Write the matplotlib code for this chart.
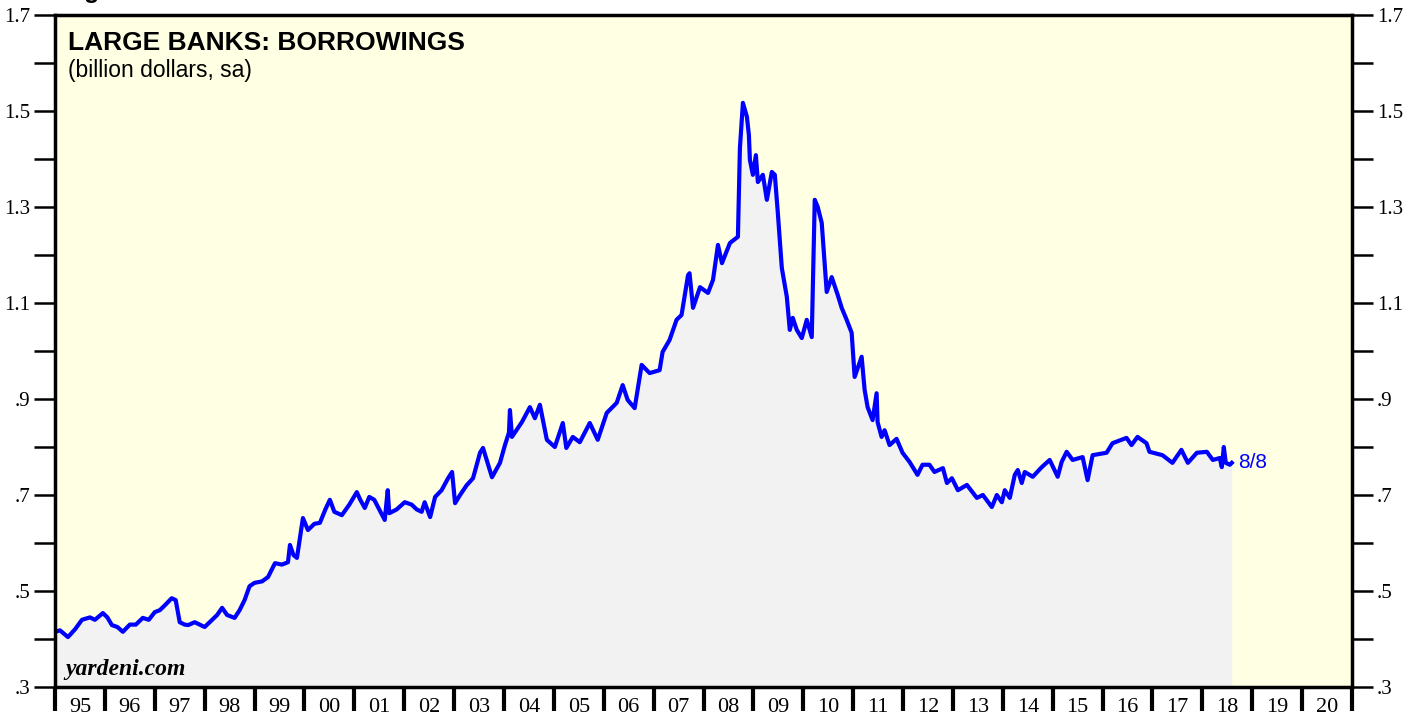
import matplotlib
matplotlib.use("Agg")
import matplotlib.pyplot as plt
from matplotlib import ticker

# weekly series (decimal year, trillion $ on the axis)
dates = [
    1995.00, 1995.10, 1995.26, 1995.40, 1995.54, 1995.70, 1995.80, 1995.96,
    1996.05, 1996.14, 1996.25, 1996.36, 1996.50, 1996.62, 1996.76, 1996.88,
    1997.00, 1997.10, 1997.20, 1997.34, 1997.42, 1997.50, 1997.60, 1997.67,
    1997.80, 1997.90, 1998.00, 1998.10, 1998.25, 1998.35, 1998.45, 1998.60,
    1998.70, 1998.80, 1998.90, 1999.00, 1999.15, 1999.27, 1999.41, 1999.55,
    1999.67, 1999.71, 1999.78, 1999.85, 1999.97, 2000.07, 2000.20, 2000.31,
    2000.42, 2000.51, 2000.60, 2000.75, 2000.90, 2001.05, 2001.12, 2001.21,
    2001.30, 2001.40, 2001.50, 2001.61, 2001.67, 2001.70, 2001.85, 2002.01,
    2002.15, 2002.25, 2002.35, 2002.41, 2002.52, 2002.62, 2002.75, 2002.88,
    2002.96, 2003.02, 2003.12, 2003.25, 2003.38, 2003.52, 2003.58, 2003.76,
    2003.92, 2004.02, 2004.10, 2004.12, 2004.16, 2004.36, 2004.52, 2004.62,
    2004.72, 2004.86, 2005.02, 2005.18, 2005.25, 2005.38, 2005.52, 2005.72,
    2005.88, 2006.06, 2006.26, 2006.38, 2006.48, 2006.62, 2006.76, 2006.92,
    2007.12, 2007.18, 2007.32, 2007.46, 2007.56, 2007.69, 2007.72, 2007.79,
    2007.93, 2008.09, 2008.19, 2008.29, 2008.37, 2008.53, 2008.69, 2008.73,
    2008.79, 2008.87, 2008.91, 2008.93, 2008.99, 2009.05, 2009.09, 2009.19,
    2009.27, 2009.37, 2009.43, 2009.49, 2009.57, 2009.67, 2009.73, 2009.79,
    2009.87, 2009.97, 2010.07, 2010.17, 2010.23, 2010.29, 2010.37, 2010.47,
    2010.57, 2010.69, 2010.77, 2010.87, 2010.97, 2011.03, 2011.17, 2011.23,
    2011.29, 2011.39, 2011.47, 2011.49, 2011.57, 2011.63, 2011.73, 2011.87,
    2011.99, 2012.13, 2012.29, 2012.39, 2012.53, 2012.63, 2012.80, 2012.88,
    2012.98, 2013.10, 2013.28, 2013.48, 2013.60, 2013.78, 2013.88, 2013.98,
    2014.04, 2014.14, 2014.24, 2014.30, 2014.38, 2014.44, 2014.60, 2014.78,
    2014.94, 2015.10, 2015.18, 2015.28, 2015.40, 2015.60, 2015.70, 2015.80,
    2016.08, 2016.20, 2016.48, 2016.58, 2016.70, 2016.88, 2016.94, 2017.20,
    2017.40, 2017.58, 2017.71, 2017.89, 2018.09, 2018.21, 2018.35, 2018.39,
    2018.43, 2018.47, 2018.55, 2018.59,
]
borrowings = [
    0.415, 0.418, 0.404, 0.420, 0.440, 0.445, 0.440, 0.454,
    0.445, 0.429, 0.425, 0.415, 0.430, 0.430, 0.444, 0.440,
    0.456, 0.460, 0.470, 0.485, 0.481, 0.435, 0.430, 0.429,
    0.435, 0.430, 0.425, 0.435, 0.450, 0.465, 0.450, 0.444,
    0.460, 0.481, 0.510, 0.517, 0.520, 0.529, 0.558, 0.555,
    0.560, 0.596, 0.575, 0.569, 0.652, 0.627, 0.640, 0.642,
    0.670, 0.690, 0.665, 0.658, 0.680, 0.706, 0.690, 0.673,
    0.696, 0.690, 0.670, 0.648, 0.710, 0.662, 0.670, 0.685,
    0.680, 0.670, 0.665, 0.685, 0.654, 0.696, 0.710, 0.735,
    0.748, 0.683, 0.700, 0.720, 0.735, 0.788, 0.798, 0.737,
    0.767, 0.804, 0.830, 0.877, 0.821, 0.852, 0.883, 0.860,
    0.888, 0.815, 0.800, 0.850, 0.798, 0.821, 0.810, 0.850,
    0.815, 0.871, 0.892, 0.929, 0.898, 0.881, 0.971, 0.954,
    0.960, 0.998, 1.023, 1.065, 1.075, 1.158, 1.162, 1.090,
    1.133, 1.121, 1.148, 1.221, 1.183, 1.225, 1.238, 1.423,
    1.517, 1.488, 1.450, 1.398, 1.367, 1.408, 1.352, 1.367,
    1.315, 1.373, 1.367, 1.288, 1.173, 1.113, 1.044, 1.069,
    1.044, 1.027, 1.065, 1.029, 1.315, 1.300, 1.267, 1.123,
    1.154, 1.117, 1.090, 1.065, 1.038, 0.946, 0.988, 0.919,
    0.883, 0.856, 0.912, 0.852, 0.821, 0.835, 0.804, 0.817,
    0.788, 0.769, 0.742, 0.763, 0.763, 0.748, 0.756, 0.725,
    0.735, 0.710, 0.721, 0.694, 0.700, 0.675, 0.700, 0.685,
    0.710, 0.694, 0.742, 0.752, 0.725, 0.748, 0.738, 0.758,
    0.773, 0.738, 0.769, 0.790, 0.773, 0.779, 0.731, 0.783,
    0.788, 0.808, 0.819, 0.804, 0.821, 0.808, 0.790, 0.783,
    0.767, 0.794, 0.767, 0.788, 0.790, 0.773, 0.777, 0.758,
    0.800, 0.767, 0.763, 0.767,
]
years = list(range(1995, 2021))
year_labels = ["%02d" % (y % 100) for y in years]
last_label = "8/8"

fig = plt.figure(figsize=(14.16, 7.19), dpi=100)
ax = fig.add_axes([55 / 1416, 1 - 687 / 719, 1297 / 1416, 672 / 719])
ax.set_facecolor("#ffffe3")

ax.fill_between(dates, borrowings, 0.3, color="#f2f2f2", lw=0)
ax.plot(dates, borrowings, color="#0000ff", lw=3, solid_joinstyle="round")
ax.text(dates[-1] + 0.12, borrowings[-1], last_label, color="#0000ff",
        fontsize=15, family="Liberation Sans", va="center", ha="left")

ax.set_xlim(1995, 2021)
ax.set_ylim(0.3, 1.7)

for s in ax.spines.values():
    s.set_linewidth(2.5)

# y axis: ticks every .1, labels every .2 on both sides
ax.yaxis.set_major_locator(ticker.FixedLocator([0.3 + 0.2 * i for i in range(8)]))
ax.yaxis.set_minor_locator(ticker.FixedLocator([0.4 + 0.2 * i for i in range(7)]))
ax.yaxis.set_major_formatter(ticker.FuncFormatter(
    lambda v, p: ("%.1f" % v).lstrip("0")))
ax.tick_params(axis="y", which="both", direction="out", length=15, width=1.8,
               left=True, right=True, labelleft=True, labelright=True,
               labelsize=15, pad=3)
for lab in ax.get_yticklabels():
    lab.set_family("Liberation Serif")

# x axis: ticks at year boundaries, labels in between
ax.xaxis.set_major_locator(ticker.FixedLocator(years + [2021]))
ax.xaxis.set_major_formatter(ticker.NullFormatter())
ax.xaxis.set_minor_locator(ticker.FixedLocator([y + 0.5 for y in years]))
ax.xaxis.set_minor_formatter(ticker.FixedFormatter(year_labels))
ax.tick_params(axis="x", which="major", direction="out", length=17, width=3)
ax.tick_params(axis="x", which="minor", length=0, labelsize=16, pad=8)
for lab in ax.get_xticklabels(minor=True):
    lab.set_family("Liberation Serif")

ax.text(0.010, 0.976, "LARGE BANKS: BORROWINGS", transform=ax.transAxes,
        fontsize=19, fontweight="bold", family="Liberation Sans",
        va="top", ha="left")
ax.text(0.010, 0.935, "(billion dollars, sa)", transform=ax.transAxes,
        fontsize=16.5, family="Liberation Sans", va="top", ha="left")
ax.text(0.008, 0.010, "yardeni.com", transform=ax.transAxes, fontsize=17,
        fontweight="bold", style="italic", family="Liberation Serif",
        va="bottom", ha="left")

fig.text(62 / 1416, 1 + 2 / 719, "Figure 30.", fontsize=18, fontweight="bold",
         family="Liberation Sans", va="baseline", ha="left")

fig.savefig("out.png", dpi=100)
